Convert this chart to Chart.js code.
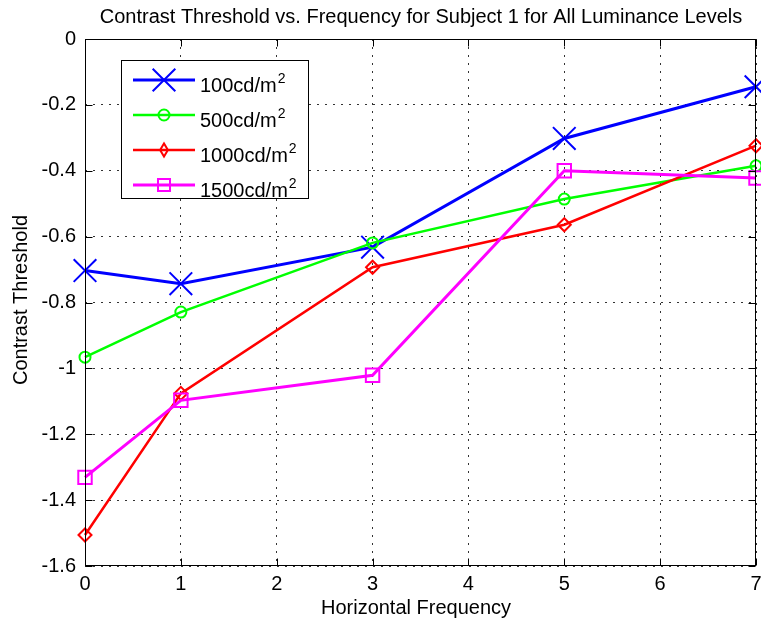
<!DOCTYPE html>
<html>
<head>
<meta charset="utf-8">
<script src="https://cdn.jsdelivr.net/npm/chart.js@4/dist/chart.umd.min.js"></script>
<style>
  html, body { margin: 0; padding: 0; background: #fff; }
  canvas { display: block; }
</style>
</head>
<body>
<canvas id="chart" width="761" height="626"></canvas>
<script>
// Horizontal frequency values sampled for Subject 1
const frequencies = [0, 1, 3, 5, 7];

// Contrast threshold per luminance level
const lum100  = [-0.703, -0.743, -0.632, -0.302, -0.145];
const lum500  = [-0.966, -0.829, -0.619, -0.486, -0.385];
const lum1000 = [-1.506, -1.076, -0.693, -0.564, -0.324];
const lum1500 = [-1.331, -1.097, -1.021, -0.400, -0.422];

const seriesNames = ['100cd/m', '500cd/m', '1000cd/m', '1500cd/m'];

const xTicks = [0, 1, 2, 3, 4, 5, 6, 7];
const yTicks = [0, -0.2, -0.4, -0.6, -0.8, -1, -1.2, -1.4, -1.6];

const titleText = 'Contrast Threshold vs. Frequency for Subject 1 for All Luminance Levels';
const xTitle = 'Horizontal Frequency';
const yTitle = 'Contrast Threshold';

const FONT = "'Liberation Sans', Arial, Helvetica, sans-serif";
const FS = 20;

const styles = [
  { color: '#0000ff', pointStyle: 'crossRot', radius: 16, bw: 2,   lw: 3 },
  { color: '#00ff00', pointStyle: 'circle',   radius: 5.5, bw: 2,  lw: 2.5 },
  { color: '#ff0000', pointStyle: 'rectRot',  radius: 6.5, bw: 2,  lw: 2.5 },
  { color: '#ff00ff', pointStyle: 'rect',     radius: 9.5, bw: 2,  lw: 3 }
];
const seriesValues = [lum100, lum500, lum1000, lum1500];

const datasets = seriesValues.map((vals, i) => ({
  label: seriesNames[i],
  data: frequencies.map((f, k) => ({ x: f, y: vals[k] })),
  borderColor: styles[i].color,
  backgroundColor: 'rgba(0,0,0,0)',
  borderWidth: styles[i].lw,
  pointStyle: styles[i].pointStyle,
  pointRadius: styles[i].radius,
  pointBorderWidth: styles[i].bw,
  pointBorderColor: styles[i].color,
  pointBackgroundColor: 'rgba(0,0,0,0)',
  tension: 0,
  clip: false,
  order: seriesValues.length - i
}));

// Simple marker painter for the legend entries
function marker(ctx, style, r, x, y) {
  ctx.beginPath();
  if (style === 'crossRot') {
    const o = r * Math.SQRT1_2;
    ctx.moveTo(x - o, y - o); ctx.lineTo(x + o, y + o);
    ctx.moveTo(x - o, y + o); ctx.lineTo(x + o, y - o);
  } else if (style === 'circle') {
    ctx.arc(x, y, r, 0, Math.PI * 2);
  } else if (style === 'rectRot') {
    ctx.moveTo(x - r * 0.6, y); ctx.lineTo(x, y - r); ctx.lineTo(x + r * 0.6, y); ctx.lineTo(x, y + r); ctx.closePath();
  } else if (style === 'rect') {
    const s = r * Math.SQRT1_2;
    ctx.rect(x - s, y - s, 2 * s, 2 * s);
  }
  ctx.stroke();
}

const framePlugin = {
  id: 'framePlugin',
  afterDraw(chart) {
    const ctx = chart.ctx;
    const a = chart.chartArea;
    const xs = chart.scales.x, ys = chart.scales.y;
    const L = Math.round(a.left) + 0.5, R = Math.round(a.right) - 0.5;
    const T = Math.round(a.top) + 0.5, B = Math.round(a.bottom) - 0.5;
    ctx.save();
    ctx.setLineDash([]);
    ctx.strokeStyle = '#000';
    ctx.lineWidth = 1;
    ctx.strokeRect(L, T, R - L, B - T);
    // inward ticks on all four sides
    const tl = 7;
    ctx.beginPath();
    xTicks.forEach(v => {
      const px = Math.round(xs.getPixelForValue(v)) + 0.5;
      ctx.moveTo(px, B); ctx.lineTo(px, B - tl);
      ctx.moveTo(px, T); ctx.lineTo(px, T + tl);
    });
    yTicks.forEach(v => {
      const py = Math.round(ys.getPixelForValue(v)) + 0.5;
      ctx.moveTo(L, py); ctx.lineTo(L + tl, py);
      ctx.moveTo(R, py); ctx.lineTo(R - tl, py);
    });
    ctx.stroke();

    // titles
    ctx.fillStyle = '#000';
    ctx.font = FS + 'px ' + FONT;
    ctx.textAlign = 'center';
    ctx.textBaseline = 'middle';
    ctx.fillText(titleText, 421, 17);
    ctx.fillText(xTitle, 416, 608);
    ctx.save();
    ctx.translate(21, 300);
    ctx.rotate(-Math.PI / 2);
    ctx.fillText(yTitle, 0, 0);
    ctx.restore();

    // legend
    const bx = 121.5, by = 60.5, bw = 187, bh = 138;
    ctx.fillStyle = '#fff';
    ctx.fillRect(bx, by, bw, bh);
    ctx.strokeStyle = '#000';
    ctx.lineWidth = 1;
    ctx.strokeRect(bx, by, bw, bh);
    seriesNames.forEach((name, i) => {
      const y = 80 + 35 * i;
      const st = styles[i];
      ctx.strokeStyle = st.color;
      ctx.lineWidth = st.lw;
      ctx.beginPath();
      ctx.moveTo(133, y); ctx.lineTo(195, y);
      ctx.stroke();
      ctx.lineWidth = st.bw;
      marker(ctx, st.pointStyle, i === 0 ? 16 : (i === 3 ? 8.5 : st.radius), 164, y);
      ctx.fillStyle = '#000';
      ctx.textAlign = 'left';
      ctx.textBaseline = 'alphabetic';
      ctx.font = FS + 'px ' + FONT;
      ctx.fillText(name, 200, y + 12);
      const w = ctx.measureText(name).width;
      ctx.font = '14px ' + FONT;
      ctx.fillText('2', 200 + w + 1, y + 3);
    });
    ctx.restore();
  }
};

new Chart(document.getElementById('chart'), {
  type: 'line',
  data: { datasets },
  options: {
    responsive: false,
    animation: false,
    devicePixelRatio: 1,
    layout: { autoPadding: false, padding: { top: 39, right: 5, left: 0, bottom: 0 } },
    plugins: { legend: { display: false }, tooltip: { enabled: false }, title: { display: false } },
    scales: {
      x: {
        type: 'linear',
        min: 0, max: 7,
        afterBuildTicks: s => { s.ticks = xTicks.map(v => ({ value: v })); },
        afterFit: s => { s.height = 60; s.paddingLeft = 0; s.paddingRight = 0; },
        ticks: { color: '#000', font: { family: FONT, size: FS }, padding: 6, maxRotation: 0, autoSkip: false },
        grid: { color: '#333', lineWidth: 1, drawTicks: false },
        border: { display: false, dash: [2, 6] }
      },
      y: {
        type: 'linear',
        min: -1.6, max: 0,
        afterBuildTicks: s => { s.ticks = yTicks.map(v => ({ value: v })); },
        afterFit: s => { s.width = 85; s.paddingTop = 0; s.paddingBottom = 0; },
        ticks: {
          color: '#000', font: { family: FONT, size: FS }, padding: 9, autoSkip: false,
          callback: v => String(Math.round(v * 10) / 10)
        },
        grid: { color: '#333', lineWidth: 1, drawTicks: false },
        border: { display: false, dash: [2, 6] }
      }
    }
  },
  plugins: [framePlugin]
});
</script>
</body>
</html>
